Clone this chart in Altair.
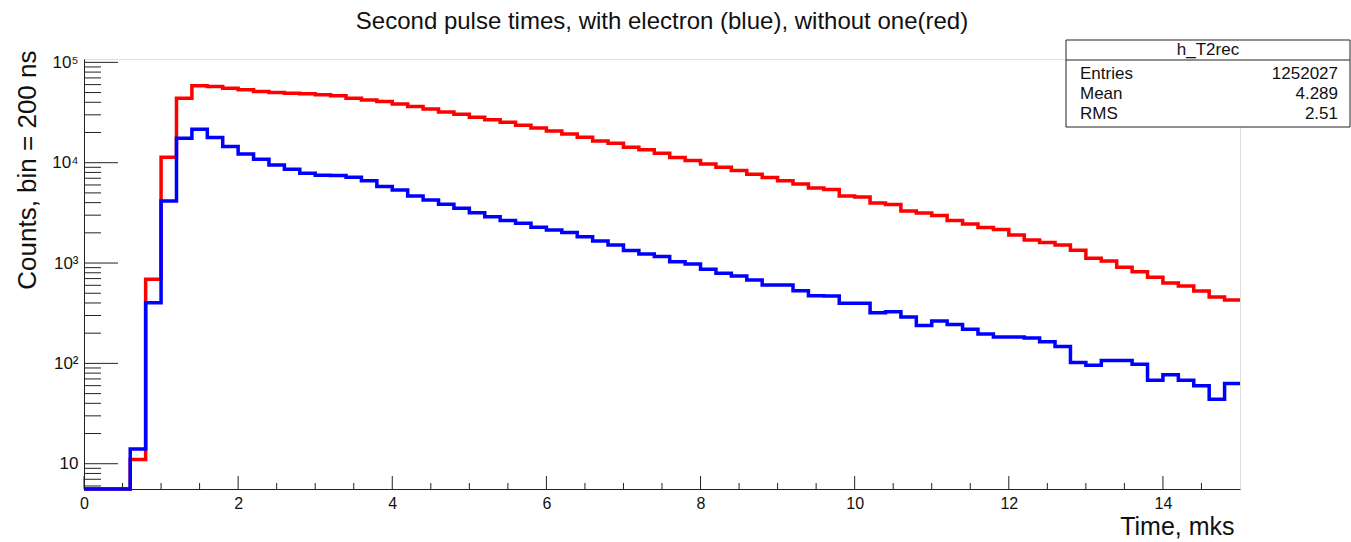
import altair as alt
import pandas as pd

# ---------------- data ----------------
BIN_WIDTH = 0.2
X_MAX = 15.0
bin_low = [round(BIN_WIDTH * i, 1) for i in range(75)]

red_counts = [
    0, 0, 0, 11, 689, 11350, 43950, 58300, 57400, 55300,
    53200, 51170, 50000, 49320, 48530, 47430, 46350, 43950, 42270, 40640,
    38550, 36220, 34360, 32060, 30480, 28440, 26730, 25350, 23660, 22230,
    20750, 19360, 17950, 16480, 15630, 14290, 13430, 12450, 11250, 10500,
    9730, 9020, 8340, 7670, 7100, 6590, 6150, 5610, 5420, 4670,
    4560, 3970, 3840, 3300, 3160, 2985, 2650, 2455, 2265, 2163,
    1905, 1700, 1603, 1514, 1342, 1117, 1050, 908, 820, 721,
    634, 591, 527, 459, 429,
]
blue_counts = [
    0, 0, 0, 14, 403, 4160, 17540, 21580, 17780, 14490,
    12240, 10840, 9510, 8610, 7850, 7500, 7470, 7160, 6590, 5780,
    5360, 4670, 4260, 3855, 3515, 3180, 2900, 2650, 2495, 2275,
    2140, 2010, 1832, 1660, 1514, 1330, 1233, 1159, 1033, 980,
    867, 791, 743, 679, 605, 605, 531, 473, 470, 397,
    397, 320, 327, 290, 238, 265, 244, 219, 196, 183,
    183, 179, 164, 147, 102, 96, 107, 107, 98, 68,
    77, 68, 60, 44, 63,
]

Y_MIN = 5.6
Y_MAX = 108000
y_major = [10, 100, 1000, 10000, 100000]
y_minor = [6, 7, 8, 9, 20, 30, 40, 50, 60, 70, 80, 90,
           200, 300, 400, 500, 600, 700, 800, 900,
           2000, 3000, 4000, 5000, 6000, 7000, 8000, 9000,
           20000, 30000, 40000, 50000, 60000, 70000, 80000, 90000]
x_major = [0, 2, 4, 6, 8, 10, 12, 14]
x_minor = [0.5, 1, 1.5, 2.5, 3, 3.5, 4.5, 5, 5.5, 6.5, 7, 7.5, 8.5, 9, 9.5,
           10.5, 11, 11.5, 12.5, 13, 13.5, 14.5]

stats_name = "h_T2rec"
stats_labels = ["Entries", "Mean", "RMS"]
stats_values = ["1252027", "4.289", "2.51"]

title_text = "Second pulse times, with electron (blue), without one(red)"

FONT = "Liberation Sans"
W, H = 1156, 430


def hist_frame(counts):
    xs = bin_low + [X_MAX]
    cs = counts + [counts[-1]]
    return pd.DataFrame({"v": xs, "count": cs,
                         "w": [max(c, Y_MIN) for c in cs]})


x_scale = alt.Scale(domain=[0, X_MAX], nice=False, zero=False)
y_scale = alt.Scale(type="log", domain=[Y_MIN, Y_MAX], nice=False)

label_expr = ("datum.value == 10 ? '10' : datum.value == 100 ? '10\u00b2' : "
              "datum.value == 1000 ? '10\u00b3' : datum.value == 10000 ? '10\u2074' : '10\u2075'")

x_axis = alt.Axis(values=x_major, ticks=False, grid=False, domain=True,
                  domainColor="#222222", labelFont=FONT, labelFontSize=16,
                  labelColor="#111111", labelPadding=6,
                  title="Time, mks", titleFont=FONT, titleFontSize=25,
                  titleFontWeight="normal", titleColor="#111111",
                  titleAnchor="end", titleAlign="right", titleX=W - 6,
                  titleY=45, titleBaseline="alphabetic", labelFlush=False)
y_axis = alt.Axis(values=y_major, ticks=False, grid=False, domain=True,
                  domainColor="#222222", labelFont=FONT, labelFontSize=17,
                  labelColor="#111111", labelPadding=6, labelExpr=label_expr,
                  title="Counts, bin = 200 ns", titleFont=FONT, titleFontSize=26,
                  titleFontWeight="normal", titleColor="#111111",
                  titleAngle=-90, titleAlign="right", titleAnchor="end",
                  titleX=-49, titleY=-9, titleBaseline="alphabetic")


def X(field):
    return alt.X(field, scale=x_scale, axis=x_axis)


def Y(field):
    return alt.Y(field, scale=y_scale, axis=y_axis)


red_line = alt.Chart(hist_frame(red_counts)).mark_line(
    interpolate="step-after", color="#ff0000", strokeWidth=3.5
).encode(x=X("v:Q"), y=Y("w:Q"))
blue_line = alt.Chart(hist_frame(blue_counts)).mark_line(
    interpolate="step-after", color="#0000ff", strokeWidth=3.5
).encode(x=X("v:Q"), y=Y("w:Q"))

# inward ticks (ROOT style)
ymaj = alt.Chart(pd.DataFrame({"w": y_major})).mark_rule(color="#222222", strokeWidth=1).encode(
    y=Y("w:Q"), x=alt.value(0), x2=alt.value(34))
ymin = alt.Chart(pd.DataFrame({"w": y_minor})).mark_rule(color="#222222", strokeWidth=1).encode(
    y=Y("w:Q"), x=alt.value(0), x2=alt.value(17))
xmaj = alt.Chart(pd.DataFrame({"v": x_major})).mark_rule(color="#222222", strokeWidth=1).encode(
    x=X("v:Q"), y=alt.value(H), y2=alt.value(H - 13))
xmin = alt.Chart(pd.DataFrame({"v": x_minor})).mark_rule(color="#222222", strokeWidth=1).encode(
    x=X("v:Q"), y=alt.value(H), y2=alt.value(H - 6))

# stats box
one = pd.DataFrame({"a": [0]})
BX0, BX1, BY0, BY1 = 982, 1266, -19, 68
box = alt.Chart(one).mark_rect(fill="white", stroke="#222222", strokeWidth=1).encode(
    x=alt.value(BX0), x2=alt.value(BX1), y=alt.value(BY0), y2=alt.value(BY1))
sep = alt.Chart(one).mark_rule(color="#222222", strokeWidth=1).encode(
    x=alt.value(BX0), x2=alt.value(BX1), y=alt.value(1))
texts = [
    alt.Chart(one).mark_text(text=stats_name, font=FONT, fontSize=17, align="center",
                             baseline="middle", color="#111111").encode(
        x=alt.value((BX0 + BX1) / 2), y=alt.value(-9))
]
for i, (lab, val) in enumerate(zip(stats_labels, stats_values)):
    yy = 15 + 20 * i
    texts.append(alt.Chart(one).mark_text(text=lab, font=FONT, fontSize=17, align="left",
                                          baseline="middle", color="#111111").encode(
        x=alt.value(BX0 + 14), y=alt.value(yy)))
    texts.append(alt.Chart(one).mark_text(text=val, font=FONT, fontSize=17, align="right",
                                          baseline="middle", color="#111111").encode(
        x=alt.value(BX1 - 12), y=alt.value(yy)))

chart = alt.layer(red_line, blue_line, ymaj, ymin, xmaj, xmin, box, sep, *texts).properties(
    width=W, height=H,
    title=alt.TitleParams(title_text, font=FONT, fontSize=24, fontWeight="normal",
                          color="#111111", anchor="middle", offset=6),
    autosize=alt.AutoSizeParams(type="none"),
    padding={"left": 84, "top": 59, "right": 111, "bottom": 53},
).configure_view(stroke="#222222", strokeWidth=1).configure(background="white")

chart.save("out.html", embed_options={"renderer": "svg", "actions": False})
